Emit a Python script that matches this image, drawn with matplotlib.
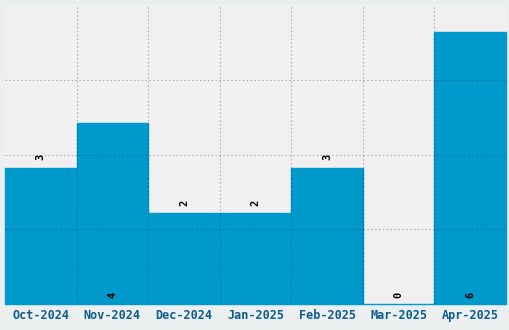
import matplotlib.pyplot as plt
import numpy as np

months = ["Oct-2024", "Nov-2024", "Dec-2024", "Jan-2025", "Feb-2025", "Mar-2025", "Apr-2025"]
counts = [3, 4, 2, 2, 3, 0, 6]
# labels that sit at the foot of the bar instead of above it
label_at_base = [False, True, False, False, False, True, True]

fig = plt.figure(figsize=(5.1, 3.3), dpi=100, facecolor="#eceff0")
ax = fig.add_axes([5 / 510, 26 / 330, 501 / 510, 299 / 330])
ax.set_facecolor("#f0f0f0")

x = np.arange(len(months))
bars = ax.bar(x, counts, width=1.0, color="#0099cc", edgecolor="#0099cc", linewidth=1.0, zorder=2)
for b in bars:
    b.set_clip_on(False)

ymax = max(counts) * 1.1
ax.set_xlim(-0.5, len(months) - 0.5)
ax.set_ylim(0, ymax)

# grid over the bars, on bar boundaries and quarter heights
for b in np.arange(0.5, len(months) - 0.5, 1.0):
    ax.axvline(b, color="black", alpha=0.25, lw=0.8, ls=(0, (1.5, 2)), zorder=3)
for g in np.linspace(0, ymax, 5)[1:-1]:
    ax.axhline(g, color="black", alpha=0.25, lw=0.8, ls=(0, (1.5, 2)), zorder=3)

for xi, v, base in zip(x, counts, label_at_base):
    y = 0.13 if base else v + 0.17
    ax.text(xi, y, str(v), rotation=90, ha="center", va="bottom", fontsize=7.5,
            family="DejaVu Sans Mono", fontweight="bold", color="black", zorder=4)

ax.set_xticks(x)
ax.set_xticklabels(months, family="DejaVu Sans Mono", fontweight="bold", fontsize=8.5, color="#0d5c8c")
ax.tick_params(axis="x", length=0, pad=3.5)
ax.set_yticks([])
for s in ax.spines.values():
    s.set_visible(False)

fig.savefig("out.png", dpi=100, facecolor=fig.get_facecolor())
